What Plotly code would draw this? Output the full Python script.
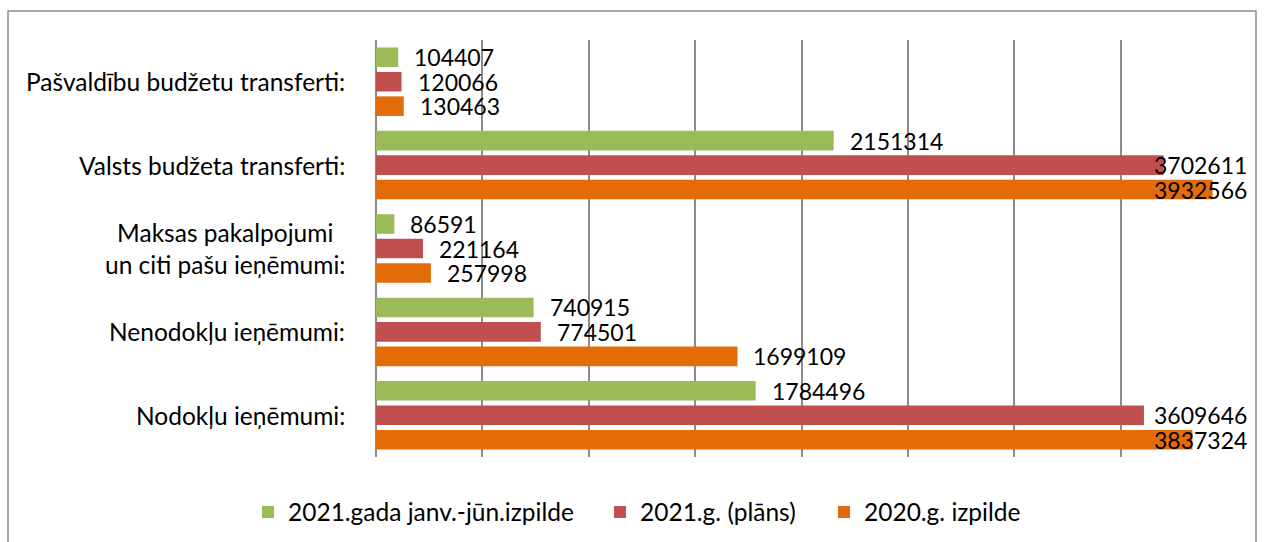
import plotly.graph_objects as go

# categories from bottom to top (plotly draws the first category at the bottom)
categories = [
    "Nodokļu ieņēmumi:",
    "Nenodokļu ieņēmumi:",
    "Maksas pakalpojumi<br>un citi pašu ieņēmumi:",
    "Valsts budžeta transferti:",
    "Pašvaldību budžetu transferti:",
]
izpilde_2021_jan_jun = [1784496, 740915, 86591, 2151314, 104407]
plans_2021 = [3609646, 774501, 221164, 3702611, 120066]
izpilde_2020 = [3837324, 1699109, 257998, 3932566, 130463]

series_names = ["2021.gada janv.-jūn.izpilde", "2021.g. (plāns)", "2020.g. izpilde"]
series_colors = ["#9BBB59", "#C0504D", "#E36C09"]

FONT = "Lato"
x_max = 4000000
plot_w = 851  # px width of plot area

fig = go.Figure()

series = list(zip(series_names, [izpilde_2021_jan_jun, plans_2021, izpilde_2020],
                  series_colors, ["legend", "legend2", "legend3"]))

# orange first so that green ends up on top inside each group
for name, vals, color, leg in reversed(series):
    fig.add_trace(
        go.Bar(
            y=categories,
            x=vals,
            name=name,
            orientation="h",
            marker=dict(color=color, line=dict(width=0)),
            legend=leg,
        )
    )

annotations = []
# value labels (Excel pushes labels back inside the chart when they run off the end)
offsets = {0: 0.2945, 1: 0, 2: -0.2945}
for i, (_, vals, _, _) in enumerate(series):
    for k, v in enumerate(vals):
        txt = str(v)
        px = v / x_max * plot_w
        w = 13.2 * len(txt)
        if px + 15 + w > plot_w + 20:
            ann = dict(x=x_max, xanchor="right", xshift=22)
        else:
            ann = dict(x=v, xanchor="left", xshift=14)
        ann.update(
            xref="x", yref="y", y=k + offsets[i], text=txt, showarrow=False,
            yanchor="middle", font=dict(family=FONT, size=23, color="#000000"),
        )
        annotations.append(ann)

# category labels, lines centred like in the original
for k, c in enumerate(categories):
    annotations.append(dict(
        xref="paper", yref="y", x=0, y=k, xshift=-29, xanchor="right",
        yanchor="middle", align="center", text=c, showarrow=False,
        font=dict(family=FONT, size=24.5, color="#000000"),
    ))


def legend_at(x_px):
    return dict(
        orientation="h",
        xref="container",
        yref="container",
        x=x_px / 1264,
        y=1 - 512 / 542,
        xanchor="left",
        yanchor="middle",
        font=dict(family=FONT, size=24.5, color="#000000"),
        bgcolor="rgba(0,0,0,0)",
    )


fig.update_layout(
    width=1264,
    height=542,
    margin=dict(l=376, r=37, t=40, b=85),
    paper_bgcolor="white",
    plot_bgcolor="white",
    barmode="group",
    bargap=0.12,
    bargroupgap=0.2,
    font=dict(family=FONT, size=23, color="#000000"),
    xaxis=dict(
        range=[0, x_max],
        dtick=500000,
        showgrid=True,
        gridcolor="#8C8C8C",
        gridwidth=1.5,
        zeroline=True,
        zerolinecolor="#8C8C8C",
        zerolinewidth=1.5,
        showticklabels=False,
        showline=False,
        fixedrange=True,
    ),
    yaxis=dict(
        type="category",
        range=[-0.5, 4.5],
        showticklabels=False,
        showgrid=False,
        showline=False,
        fixedrange=True,
    ),
    showlegend=True,
    legend=legend_at(248),
    legend2=legend_at(600),
    legend3=legend_at(824),
    annotations=annotations,
    shapes=[
        dict(
            type="rect", xref="paper", yref="paper",
            x0=(8 - 376) / 851, x1=(1256 - 376) / 851,
            y0=(457 - 548) / 417, y1=(457 - 11) / 417,
            line=dict(color="#8A8A8A", width=1.5),
            fillcolor="rgba(0,0,0,0)",
            layer="below",
        )
    ],
)

fig.write_html("out.html", config={"displayModeBar": False},
               post_script="document.body.style.margin='0';")
